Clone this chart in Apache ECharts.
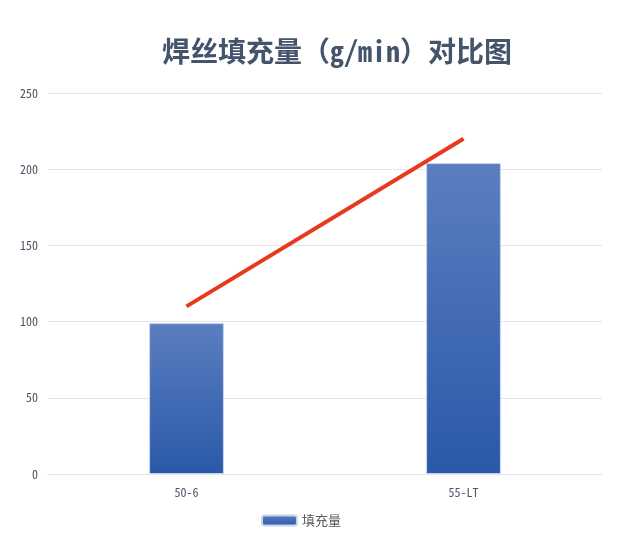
<!DOCTYPE html>
<html><head><meta charset="utf-8">
<script src="https://cdn.jsdelivr.net/npm/echarts@6/dist/echarts.min.js"></script>
<style>html,body{margin:0;padding:0;background:#fff}#c{width:622px;height:537px}</style>
</head><body><div id="c"></div>
<script>
const categories = ['50-6', '55-LT'];
const fillValues = [99, 204];
const trendValues = [110, 220];
const yTicks = {min: 0, max: 250, interval: 50};

const chart = echarts.init(document.getElementById('c'), null, {renderer: 'canvas'});
const FONT = "'Noto Sans Mono CJK SC', 'DejaVu Sans Mono', 'Noto Sans CJK SC', monospace";
chart.setOption({
  animation: false,
  backgroundColor: '#ffffff',
  title: {
    text: '焊丝填充量（g/min）对比图',
    left: 157, top: 32,
    textStyle: {fontFamily: FONT, fontSize: 28, fontWeight: 'bold', color: '#44546a'}
  },
  legend: {
    data: ['填充量'], bottom: 5, left: 256,
    itemWidth: 35, itemHeight: 10, itemGap: 8,
    textStyle: {fontFamily: FONT, fontSize: 13, color: '#595959'}
  },
  grid: {left: 48, right: 20, top: 93, bottom: 63},
  xAxis: {
    type: 'category', data: categories,
    axisLine: {show: true, lineStyle: {color: '#e2e5ee', width: 1}},
    axisTick: {show: false},
    axisLabel: {fontFamily: FONT, fontSize: 12, color: '#4a5568', margin: 12}
  },
  yAxis: {
    type: 'value', min: yTicks.min, max: yTicks.max, interval: yTicks.interval,
    axisLine: {show: false}, axisTick: {show: false},
    axisLabel: {fontFamily: FONT, fontSize: 12, color: '#4a5568', margin: 10},
    splitLine: {lineStyle: {color: '#e2e5ee', width: 1}}
  },
  series: [
    {
      name: '填充量', type: 'bar', data: fillValues, barWidth: '27%',
      itemStyle: {
        borderColor: '#c8d4ea', borderWidth: 1,
        color: new echarts.graphic.LinearGradient(0, 0, 0, 1, [
          {offset: 0, color: '#5b7ec0'}, {offset: 1, color: '#2a58a8'}
        ])
      }
    },
    {
      name: '趋势', type: 'line', data: trendValues, symbol: 'none',
      lineStyle: {color: '#e8391c', width: 4}, itemStyle: {color: '#e8391c'}
    }
  ]
});
</script></body></html>
